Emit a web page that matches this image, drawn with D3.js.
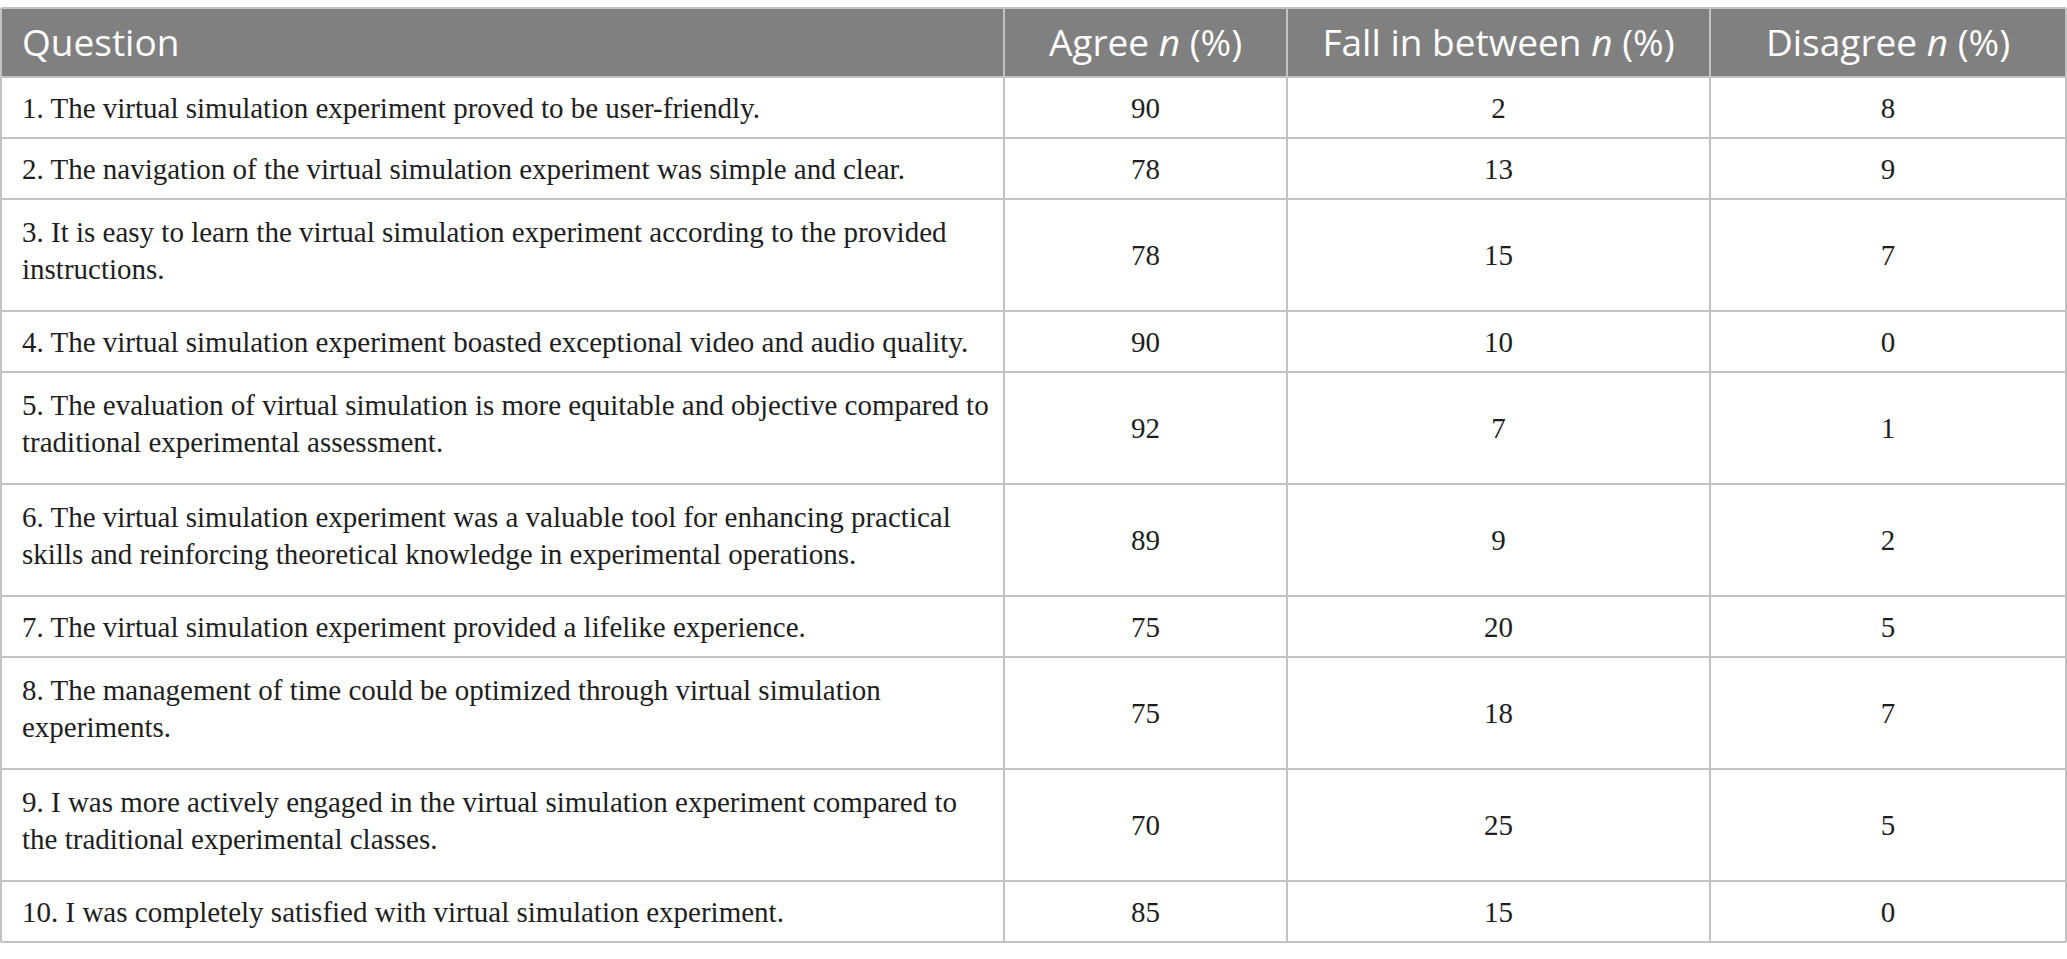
<!DOCTYPE html>
<html>
<head>
<meta charset="utf-8">
<script src="https://cdn.jsdelivr.net/npm/d3@7"></script>
<style>
  body { margin: 0; background: #fff; }
  svg { display: block; }
</style>
</head>
<body>
<svg id="chart"></svg>
<script>
// Table content
const headers = ["Question", "Agree", "Fall in between", "Disagree"];
const questions = [
    "1. The virtual simulation experiment proved to be user-friendly.",
    "2. The navigation of the virtual simulation experiment was simple and clear.",
    "3. It is easy to learn the virtual simulation experiment according to the provided\ninstructions.",
    "4. The virtual simulation experiment boasted exceptional video and audio quality.",
    "5. The evaluation of virtual simulation is more equitable and objective compared to\ntraditional experimental assessment.",
    "6. The virtual simulation experiment was a valuable tool for enhancing practical\nskills and reinforcing theoretical knowledge in experimental operations.",
    "7. The virtual simulation experiment provided a lifelike experience.",
    "8. The management of time could be optimized through virtual simulation\nexperiments.",
    "9. I was more actively engaged in the virtual simulation experiment compared to\nthe traditional experimental classes.",
    "10. I was completely satisfied with virtual simulation experiment."
];
const agree    = [90, 78, 78, 90, 92, 89, 75, 75, 70, 85];
const between  = [2, 13, 15, 10, 7, 9, 20, 18, 25, 15];
const disagree = [8, 9, 7, 0, 1, 2, 5, 7, 5, 0];

// Layout
const W = 2067, H = 959;
const tableTop = 8, headerH = 69;
const singleH = 61, extraLineH = 51, lineGap = 37;
const colEdges = [1, 1004, 1287, 1710, 2066];
const border = "#c3c3c3";

const svg = d3.select("#chart").attr("width", W).attr("height", H);

const rows = questions.map((q, i) => ({
    lines: q.split("\n"),
    values: [agree[i], between[i], disagree[i]]
}));

// cumulative row offsets
let acc = tableTop + headerH;
rows.forEach(r => {
    r.h = singleH + (r.lines.length - 1) * extraLineH;
    r.y0 = acc;
    acc += r.h;
});
const tableBottom = acc;

// column scale: index -> left edge
const x = d3.scaleOrdinal().domain(d3.range(colEdges.length)).range(colEdges);
const colMid = i => (x(i) + x(i + 1)) / 2;

// Header background
svg.append("rect")
    .attr("x", x(0)).attr("y", tableTop)
    .attr("width", x(4) - x(0)).attr("height", headerH)
    .attr("fill", "#808080");

// Header labels
const headG = svg.append("g")
    .attr("font-family", "'Open Sans', 'Noto Sans', sans-serif")
    .attr("font-size", 37)
    .attr("fill", "#fff");

headers.forEach((h, i) => {
    const t = headG.append("text")
        .attr("x", i === 0 ? 22 : colMid(i))
        .attr("y", tableTop + headerH / 2 + 13)
        .attr("text-anchor", i === 0 ? "start" : "middle");
    t.append("tspan").text(h);
    if (i > 0) {
        t.append("tspan").text(" ");
        t.append("tspan").attr("font-style", "italic").text("n");
        t.append("tspan").text(" (%)");
    }
});

// Body rows
const rowG = svg.selectAll("g.row")
    .data(rows)
    .join("g")
    .attr("class", "row")
    .attr("font-family", "'Liberation Serif', 'Times New Roman', serif")
    .attr("font-size", 29)
    .attr("fill", "#1e1e1e");

rowG.each(function(r) {
    const g = d3.select(this);
    const cy = r.y0 + r.h / 2;
    const n = r.lines.length;
    // wrapped question text sits a little above the row centre
    const lift = n > 1 ? 5 : 0;
    r.lines.forEach((line, k) => {
        g.append("text")
            .attr("x", 22)
            .attr("y", cy + (k - (n - 1) / 2) * lineGap + 10 - lift)
            .text(line);
    });
    r.values.forEach((v, j) => {
        g.append("text")
            .attr("x", colMid(j + 1))
            .attr("y", cy + 10)
            .attr("text-anchor", "middle")
            .text(v);
    });
});

// Grid lines
const grid = svg.append("g")
    .attr("stroke", border)
    .attr("stroke-width", 2)
    .attr("fill", "none");

const hLines = [tableTop, tableTop + headerH].concat(rows.map(r => r.y0 + r.h));
grid.selectAll("line.h")
    .data(hLines)
    .join("line")
    .attr("class", "h")
    .attr("x1", x(0)).attr("x2", x(4))
    .attr("y1", d => d).attr("y2", d => d);

grid.selectAll("line.v")
    .data(d3.range(colEdges.length))
    .join("line")
    .attr("class", "v")
    .attr("x1", d => x(d)).attr("x2", d => x(d))
    .attr("y1", tableTop).attr("y2", tableBottom);
</script>
</body>
</html>
